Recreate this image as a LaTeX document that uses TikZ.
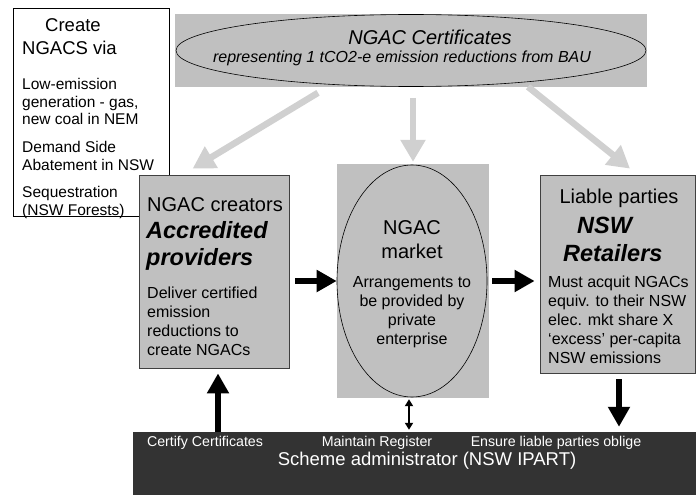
\documentclass[tikz,border=0pt]{standalone}
\usepackage{fontspec}
\setmainfont{Liberation Sans}
\usetikzlibrary{arrows.meta,positioning,shapes.geometric}
\definecolor{slate}{HTML}{C0C0C0}
\definecolor{ink}{HTML}{333333}
\definecolor{haze}{HTML}{D0D0D0}
\newcommand\fsz[2]{\fontsize{#1}{#2}\selectfont}
\tikzset{
  panel/.style={fill=slate,draw=black!75,line width=0.8pt,inner sep=0pt},
  pad/.style={fill=slate,inner sep=0pt},
  oval/.style={ellipse,draw=black,line width=0.6pt,inner sep=0pt},
  headtext/.style={font=\fsz{20}{24},align=center,inner sep=0pt},
  boldtext/.style={font=\fsz{23.5}{27.5}\bfseries\itshape,align=left,inner sep=0pt},
  bodytext/.style={font=\fsz{16}{19},align=left,inner sep=0pt},
  sidetext/.style={font=\fsz{15.5}{17.5},align=left,anchor=west,inner sep=0pt},
  bartext/.style={font=\fsz{14.2}{17},text=white,inner sep=0pt},
  push/.style={-{Triangle[length=20pt,width=21pt]},line width=6.5pt},
  feed/.style={-{Triangle[length=22pt,width=24pt]},line width=6.5pt,haze},
  tie/.style={{Triangle[length=7pt,width=8pt]}-{Triangle[length=7pt,width=8pt]},line width=2pt}
}
\begin{document}
\begin{tikzpicture}[x=1pt,y=-1pt]
\useasboundingbox (0,0) rectangle (696,495);
\node[draw=black,line width=0.6pt,fill=white,minimum width=156pt,minimum height=208pt,inner sep=0pt] (via) at (91,112) {};
\node[font=\fsz{18.5}{23},align=left,anchor=west,inner sep=0pt] (viahead) at (22,36.5) {\hspace*{23pt}Create\\NGACS via};
\node[sidetext] (low) at (22,101.5) {Low-emission\\generation - gas,\\new coal in NEM};
\node[sidetext] (dsa) at (22,156) {Demand Side\\Abatement in NSW};
\node[sidetext] (seq) at (22,202.5) {Sequestration\\(NSW Forests)};

\node[pad,minimum width=472pt,minimum height=73pt] (certbox) at (411,50.5) {};
\node[oval,minimum width=470pt,minimum height=72pt] (cert) at (411,50.5) {};
\node[headtext,font=\fsz{20}{24}\itshape] (certhead) at (430,37) {NGAC Certificates};
\node[bodytext,font=\fsz{16}{19}\itshape] (certsub) at (402,58) {representing 1 tCO2-e emission reductions from BAU};

\node[panel,minimum width=150pt,minimum height=193pt] (cre) at (214,271.5) {};
\node[headtext,anchor=west] (crehead) at (147,205) {NGAC creators};
\node[boldtext,anchor=west] (creacc) at (146,246) {Accredited\\providers};
\node[bodytext,anchor=west] (crebody) at (147,321) {Deliver certified\\emission\\reductions to\\create NGACs};

\node[pad,minimum width=152pt,minimum height=234pt] (mktbox) at (413,281) {};
\node[oval,minimum width=150pt,minimum height=232pt] (mkt) at (412,281) {};
\node[headtext] (mkthead) at (412,240) {NGAC\\market};
\node[bodytext,align=center] (mktbody) at (412,312) {Arrangements to\\be provided by\\private\\enterprise};

\node[panel,minimum width=155pt,minimum height=198pt] (ret) at (617.5,274) {};
\node[headtext] (rethead) at (619,198) {Liable parties};
\node[boldtext,anchor=west] (retnsw) at (577,225) {NSW};
\node[boldtext,anchor=west] (retret) at (563,253) {Retailers};
\node[bodytext,anchor=west] (retbody) at (548,319.5) {Must acquit NGACs\\equiv. to their NSW\\elec. mkt share X\\`excess' per-capita\\NSW emissions};

\node[fill=ink,minimum width=563pt,minimum height=63pt,inner sep=0pt] (adm) at (414.5,463.5) {};
\node[bartext] (certify) at (205,443) {Certify Certificates};
\node[bartext] (register) at (377,443) {Maintain Register};
\node[bartext] (ensure) at (556,443) {Ensure liable parties oblige};
\node[bartext,font=\fsz{18.5}{22}] (admname) at (427,461) {Scheme administrator (NSW IPART)};

\draw[feed] ([shift={(-93,6)}]cert.south) -- ([shift={(54,-6)}]cre.north west);
\draw[feed] ([shift={(2,11)}]cert.south) -- ([shift={(0,-2)}]mktbox.north);
\draw[feed] ([shift={(117,0)}]cert.south) -- ([shift={(12.5,-6)}]ret.north);
\draw[push] ([xshift=6pt]cre.east |- mkt.west) -- (mkt.west);
\draw[push] ([xshift=3pt]mktbox.east |- mkt.east) -- ([xshift=-5pt]ret.west |- mkt.east);
\draw[push] ([xshift=4pt]cre.south |- adm.north) -- ([shift={(4,5)}]cre.south);
\draw[tie] ([shift={(-4,1)}]mktbox.south) -- ([shift={(-4,-2)}]mktbox.south |- adm.north);
\draw[push] ([shift={(1.5,6)}]ret.south) -- ([shift={(1.5,-5)}]ret.south |- adm.north);
\end{tikzpicture}
\end{document}
